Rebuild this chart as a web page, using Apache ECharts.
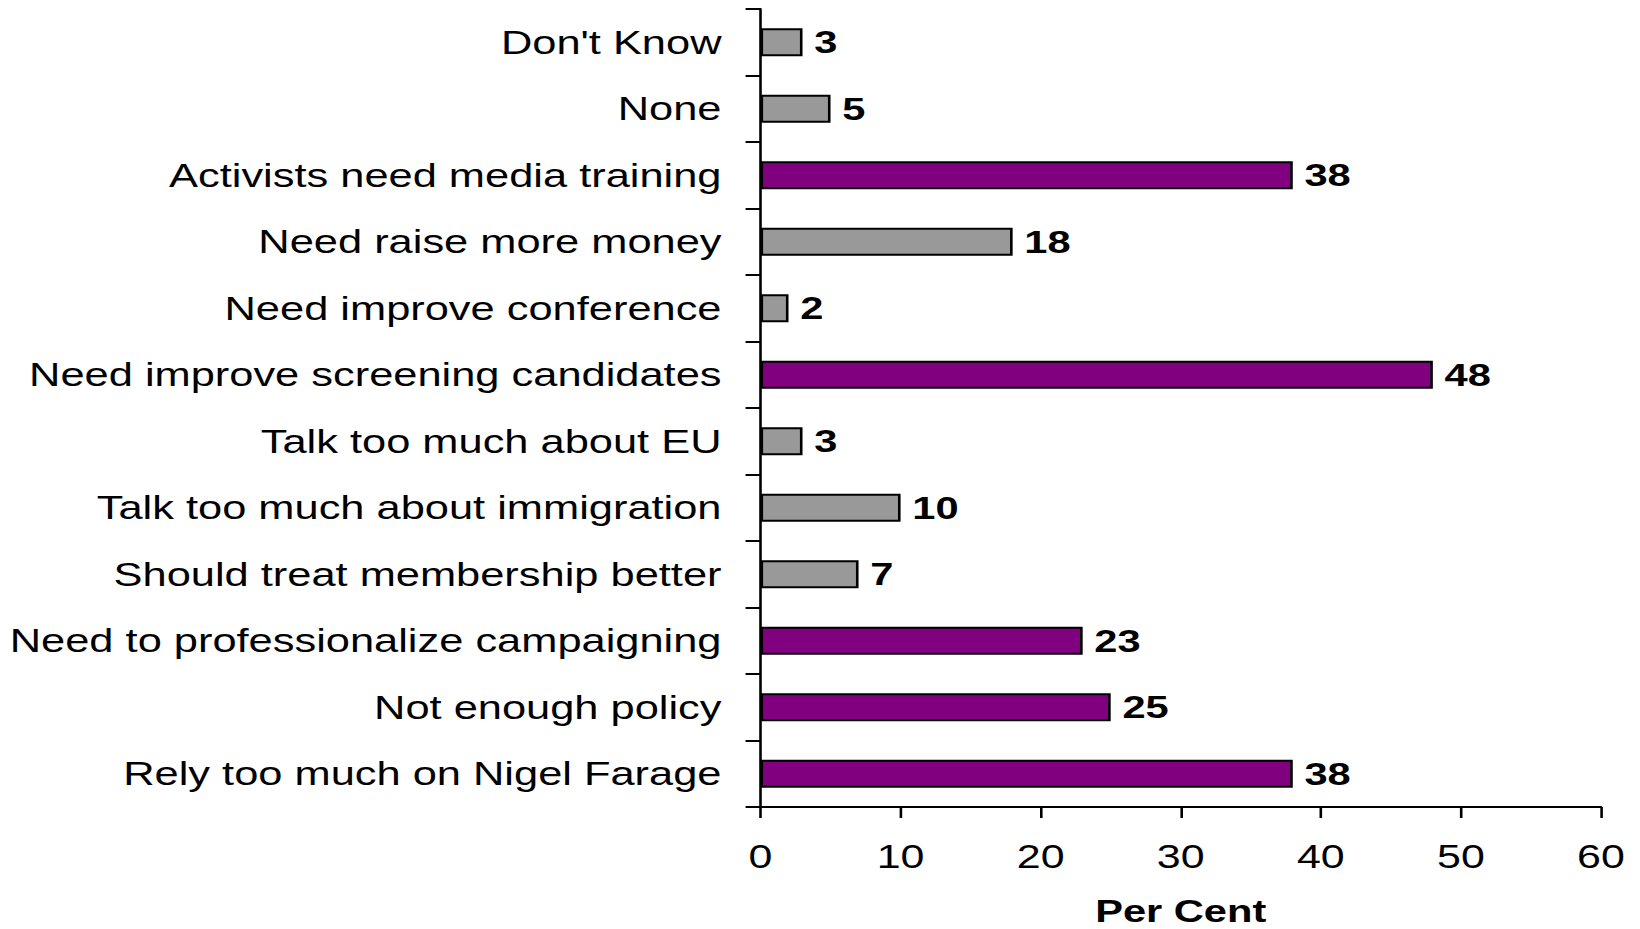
<!DOCTYPE html>
<html>
<head>
<meta charset="utf-8">
<title>Party weaknesses</title>
<script src="https://cdn.jsdelivr.net/npm/echarts@6/dist/echarts.min.js"></script>
<style>
  html, body { margin: 0; padding: 0; background: #ffffff; overflow: hidden; }
  /* The chart is laid out narrow and widened horizontally, giving the broad lettering */
  #chart { width: 1262px; height: 929px; transform: scaleX(1.3); transform-origin: 0 0; }
</style>
</head>
<body>
<div id="chart"></div>
<script>
// Categories listed bottom to top (ECharts category y-axis order)
const categories = [
  'Rely too much on Nigel Farage',
  'Not enough policy',
  'Need to professionalize campaigning',
  'Should treat membership better',
  'Talk too much about immigration',
  'Talk too much about EU',
  'Need improve screening candidates',
  'Need improve conference',
  'Need raise more money',
  'Activists need media training',
  'None',
  "Don't Know"
];
const perCent = [38, 25, 23, 7, 10, 3, 48, 2, 18, 38, 5, 3];
// Answers drawn in the highlight colour
const highlighted = [
  'Rely too much on Nigel Farage',
  'Not enough policy',
  'Need to professionalize campaigning',
  'Need improve screening candidates',
  'Activists need media training'
];
const xTicks = [0, 10, 20, 30, 40, 50, 60];

const PURPLE = '#800080';
const GREY = '#999999';
const FONT = '"Liberation Sans", Arial, sans-serif';

const chart = echarts.init(document.getElementById('chart'), null, { renderer: 'svg' });

chart.setOption({
  animation: false,
  backgroundColor: '#ffffff',
  grid: {
    left: 585, width: 646.5, top: 9, bottom: 122,
    containLabel: false,
    outerBoundsMode: 'none'
  },
  xAxis: {
    type: 'value',
    min: xTicks[0],
    max: xTicks[xTicks.length - 1],
    interval: xTicks[1] - xTicks[0],
    name: 'Per Cent',
    nameLocation: 'middle',
    nameGap: 88,
    nameTextStyle: { fontFamily: FONT, fontSize: 32, fontWeight: 'bold', color: '#000' },
    axisLine: { show: true, lineStyle: { color: '#000', width: 2 } },
    axisTick: { show: true, length: 11, lineStyle: { color: '#000', width: 2 } },
    axisLabel: { margin: 33, fontFamily: FONT, fontSize: 33, color: '#000' },
    splitLine: { show: false }
  },
  yAxis: {
    type: 'category',
    data: categories,
    boundaryGap: true,
    axisLine: { show: true, lineStyle: { color: '#000', width: 2 } },
    axisTick: { show: true, length: 11.5, alignWithLabel: false, lineStyle: { color: '#000', width: 2 } },
    axisLabel: { margin: 30, fontFamily: FONT, fontSize: 33.4, color: '#000' }
  },
  series: [{
    type: 'bar',
    data: perCent.map((v, i) => ({
      value: v,
      itemStyle: { color: highlighted.includes(categories[i]) ? PURPLE : GREY }
    })),
    barWidth: 28,
    itemStyle: { borderColor: '#000', borderWidth: 2 },
    label: {
      show: true,
      position: 'right',
      distance: 9,
      fontFamily: FONT,
      fontSize: 32,
      fontWeight: 'bold',
      color: '#000'
    }
  }]
});
</script>
</body>
</html>
